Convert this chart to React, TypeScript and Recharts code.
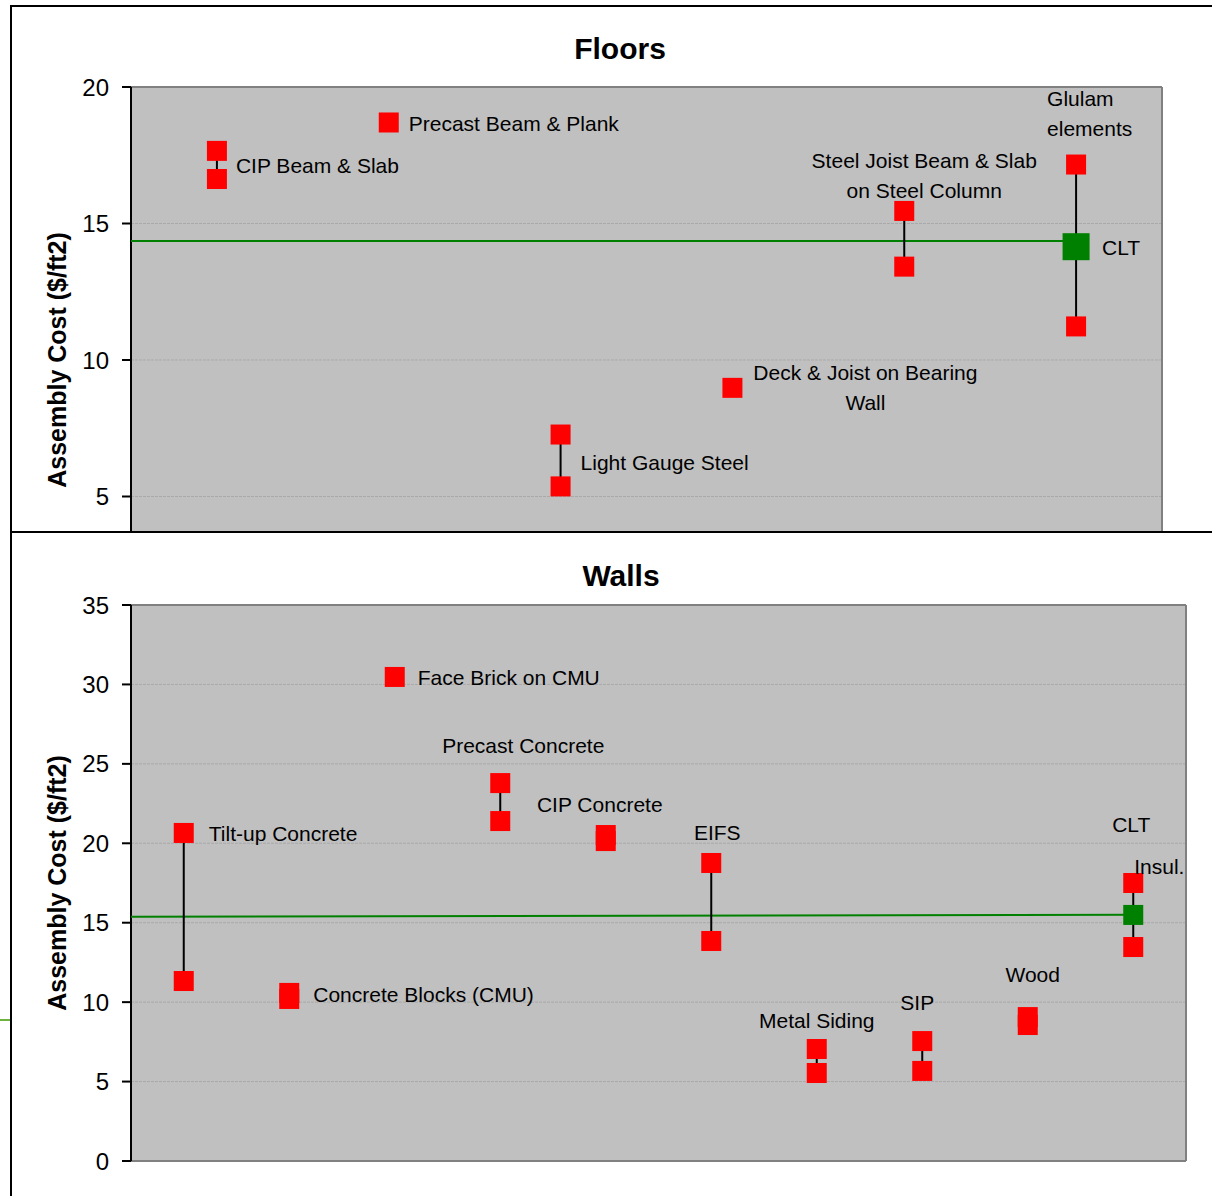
import React from 'react';
import { ScatterChart, Scatter, XAxis, YAxis, CartesianGrid, ReferenceLine } from 'recharts';

const FONT = '"Liberation Sans", Arial, Helvetica, sans-serif';

// ---------- Floors ----------
const floorCategories = [
  'CIP Beam & Slab',
  'Precast Beam & Plank',
  'Light Gauge Steel',
  'Deck & Joist on Bearing Wall',
  'Steel Joist Beam & Slab on Steel Column',
  'Glulam elements',
];
const floorHigh = [17.66, 18.7, 7.27, 8.98, 15.46, 17.16];
const floorLow: (number | null)[] = [16.63, null, 5.37, null, 13.42, 11.23];
const floorCltValue = 14.15;
const floorCltLine = [14.36, 14.36]; // at the plot's left edge, at the CLT column
const floorTicks = [5, 10, 15, 20];
const floorLabelLines = [
  ['CIP Beam & Slab'],
  ['Precast Beam & Plank'],
  ['Light Gauge Steel'],
  ['Deck & Joist on Bearing', 'Wall'],
  ['Steel Joist Beam & Slab', 'on Steel Column'],
  ['Glulam', 'elements'],
];

// ---------- Walls ----------
const wallCategories = [
  'Tilt-up Concrete',
  'Concrete Blocks (CMU)',
  'Face Brick on CMU',
  'Precast Concrete',
  'CIP Concrete',
  'EIFS',
  'Metal Siding',
  'SIP',
  'Wood',
  'CLT',
];
const wallHigh = [20.65, 10.58, 30.47, 23.79, 20.52, 18.76, 7.05, 7.55, 9.06, 17.5];
const wallLow: (number | null)[] = [11.33, 10.2, null, 21.4, 20.14, 13.85, 5.54, 5.67, 8.56, 13.47];
const wallCltValue = 15.49;
const wallCltLine = [15.38, 15.5];
const wallTicks = [0, 5, 10, 15, 20, 25, 30, 35];
const wallLabelLines = [
  ['Tilt-up Concrete'],
  ['Concrete Blocks (CMU)'],
  ['Face Brick on CMU'],
  ['Precast Concrete'],
  ['CIP Concrete'],
  ['EIFS'],
  ['Metal Siding'],
  ['SIP'],
  ['Wood'],
  ['CLT', 'Insul.'],
];

// ---------- label placement (pixel offsets from the upper marker) ----------
type Anchor = 'start' | 'middle' | 'end';
type Place = { dx: number; dy: number; anchor: Anchor };

const floorLabelPlaces: Place[][] = [
  [{ dx: 19, dy: 15, anchor: 'start' }],
  [{ dx: 20, dy: 1, anchor: 'start' }],
  [{ dx: 20, dy: 28, anchor: 'start' }],
  [{ dx: 133, dy: -15, anchor: 'middle' }, { dx: 133, dy: 15, anchor: 'middle' }],
  [{ dx: 20, dy: -50, anchor: 'middle' }, { dx: 20, dy: -20, anchor: 'middle' }],
  [{ dx: -29, dy: -66, anchor: 'start' }, { dx: -29, dy: -36, anchor: 'start' }],
];
const floorCltLabel = { text: 'CLT', place: { dx: 26, dy: 1, anchor: 'start' as Anchor } };

const wallLabelPlaces: Place[][] = [
  [{ dx: 25, dy: 1, anchor: 'start' }],
  [{ dx: 24, dy: 1.5, anchor: 'start' }],
  [{ dx: 23, dy: 1, anchor: 'start' }],
  [{ dx: 23, dy: -38, anchor: 'middle' }],
  [{ dx: -6, dy: -31, anchor: 'middle' }],
  [{ dx: 6, dy: -30.5, anchor: 'middle' }],
  [{ dx: 0, dy: -28.5, anchor: 'middle' }],
  [{ dx: -5, dy: -39, anchor: 'middle' }],
  [{ dx: 5, dy: -42.5, anchor: 'middle' }],
  [{ dx: -2, dy: -58.5, anchor: 'middle' }, { dx: 1, dy: -17, anchor: 'start' }],
];

const RED = '#ff0000';
const GREEN = '#008000';
const LABEL_SIZE = 21;

const square = (size: number, color: string) => (props: any) => {
  const { cx, cy } = props;
  if (cx == null || cy == null) return <g />;
  return <rect x={cx - size / 2} y={cy - size / 2} width={size} height={size} fill={color} />;
};

const nothing = () => <g />;

const makeYTitle = (text: string) => (props: any) => {
  const vb = props && props.viewBox ? props.viewBox : { y: 0, height: 0 };
  const cx = 45;
  const cy = vb.y + vb.height / 2;
  return (
    <text
      x={cx}
      y={cy}
      transform={`rotate(-90 ${cx} ${cy})`}
      textAnchor="middle"
      dominantBaseline="central"
      fontSize={25}
      fontWeight="bold"
      fontFamily={FONT}
      fill="#000"
    >
      {text}
    </text>
  );
};

const makeLabelShape = (lines: string[][], places: Place[][]) => (props: any) => {
  const { cx, cy, payload } = props;
  const i = payload.i;
  return (
    <g>
      {lines[i].map((t, k) => (
        <text
          key={k}
          x={cx + places[i][k].dx}
          y={cy + places[i][k].dy + 7.5}
          textAnchor={places[i][k].anchor}
          fontSize={LABEL_SIZE}
          fontFamily={FONT}
          fill="#000"
        >
          {t}
        </text>
      ))}
    </g>
  );
};

interface CostChartProps {
  categories: string[];
  high: number[];
  low: (number | null)[];
  cltValue: number;
  cltSize: number;
  cltLine: number[];
  labelLines: string[][];
  labelPlaces: Place[][];
  cltLabel?: { text: string; place: Place };
  yMax: number;
  yTicks: number[];
  height: number;
  margin: { top: number; right: number; bottom: number; left: number };
}

function CostChart(p: CostChartProps) {
  const n = p.categories.length;
  const cltIndex = n - 1;
  const lineData = [
    { x: 0.5, y: p.cltLine[0] },
    { x: cltIndex + 1, y: p.cltLine[1] },
  ];
  const anchors = p.categories.map((_, i) => ({ x: i + 1, y: p.high[i], i }));
  const cltShape = (props: any) => {
    const { cx, cy } = props;
    const sq = square(p.cltSize, GREEN)(props);
    if (!p.cltLabel) return sq;
    const pl = p.cltLabel.place;
    return (
      <g>
        {sq}
        <text
          x={cx + pl.dx}
          y={cy + pl.dy + 7.5}
          textAnchor={pl.anchor}
          fontSize={LABEL_SIZE}
          fontFamily={FONT}
          fill="#000"
        >
          {p.cltLabel.text}
        </text>
      </g>
    );
  };

  return (
    <ScatterChart width={1200} height={p.height} margin={p.margin}>
      <CartesianGrid vertical={false} fill="#c0c0c0" fillOpacity={1} stroke="#a9a9a9" strokeDasharray="3 1" />
      <XAxis type="number" dataKey="x" domain={[0.5, n + 0.5]} hide allowDataOverflow />
      <YAxis
        type="number"
        dataKey="y"
        domain={[0, p.yMax]}
        ticks={p.yTicks}
        interval={0}
        width={119}
        tickSize={9}
        tickMargin={13}
        allowDataOverflow
        axisLine={{ stroke: '#000', strokeWidth: 2 }}
        tickLine={{ stroke: '#000', strokeWidth: 2 }}
        tick={{ fill: '#000', fontSize: 24, fontFamily: FONT }}
        label={makeYTitle('Assembly Cost ($/ft2)')}
      />
      <ReferenceLine y={p.yMax} stroke="#808080" strokeWidth={2} />
      <ReferenceLine x={n + 0.5} stroke="#808080" strokeWidth={2} />
      <ReferenceLine y={0} stroke="#808080" strokeWidth={2} />
      <Scatter
        data={lineData}
        line={{ stroke: GREEN, strokeWidth: 2 }}
        shape={nothing}
        isAnimationActive={false}
      />
      {p.categories.map((c, i) => {
        const pts: { x: number; y: number }[] = [{ x: i + 1, y: p.high[i] }];
        const lo = p.low[i];
        if (lo != null) pts.push({ x: i + 1, y: lo });
        return (
          <Scatter
            key={c}
            name={c}
            data={pts}
            line={{ stroke: '#000', strokeWidth: 2 }}
            shape={square(20, RED)}
            isAnimationActive={false}
          />
        );
      })}
      <Scatter
        name="CLT"
        data={[{ x: cltIndex + 1, y: p.cltValue }]}
        shape={cltShape}
        isAnimationActive={false}
      />
      <Scatter
        data={anchors}
        shape={makeLabelShape(p.labelLines, p.labelPlaces)}
        isAnimationActive={false}
      />
    </ScatterChart>
  );
}

const panelStyle = (top: number, height: number): React.CSSProperties => ({
  position: 'absolute',
  left: 10,
  top,
  width: 1230,
  height,
  border: '2px solid #000',
  background: '#fff',
  overflow: 'hidden',
});

const titleStyle = (top: number, width: number): React.CSSProperties => ({
  position: 'absolute',
  left: 0,
  top,
  width,
  textAlign: 'center',
  fontFamily: FONT,
  fontWeight: 'bold',
  fontSize: 30,
  lineHeight: '30px',
  color: '#000',
});

export default function App() {
  return (
    <div
      style={{
        position: 'fixed',
        left: 0,
        top: 0,
        width: 1212,
        height: 1196,
        overflow: 'hidden',
        background: '#fff',
      }}
    >
      <div style={panelStyle(5, 600)}>
        <div style={titleStyle(27, 1216)}>Floors</div>
        <div style={{ position: 'absolute', left: 0, top: 0 }}>
          <CostChart
            categories={floorCategories}
            high={floorHigh}
            low={floorLow}
            cltValue={floorCltValue}
            cltSize={27}
            cltLine={floorCltLine}
            labelLines={floorLabelLines}
            labelPlaces={floorLabelPlaces}
            cltLabel={floorCltLabel}
            yMax={20}
            yTicks={floorTicks}
            height={680}
            margin={{ top: 80, right: 50, bottom: 54, left: 0 }}
          />
        </div>
      </div>
      <div style={panelStyle(531, 700)}>
        <div style={titleStyle(28, 1218)}>Walls</div>
        <div style={{ position: 'absolute', left: 0, top: 0 }}>
          <CostChart
            categories={wallCategories}
            high={wallHigh}
            low={wallLow}
            cltValue={wallCltValue}
            cltSize={20}
            cltLine={wallCltLine}
            labelLines={wallLabelLines}
            labelPlaces={wallLabelPlaces}
            yMax={35}
            yTicks={wallTicks}
            height={663}
            margin={{ top: 72, right: 26, bottom: 35, left: 0 }}
          />
        </div>
      </div>
      <div style={{ position: 'absolute', left: 0, top: 1019, width: 10, height: 2, background: '#6db33f' }} />
    </div>
  );
}
